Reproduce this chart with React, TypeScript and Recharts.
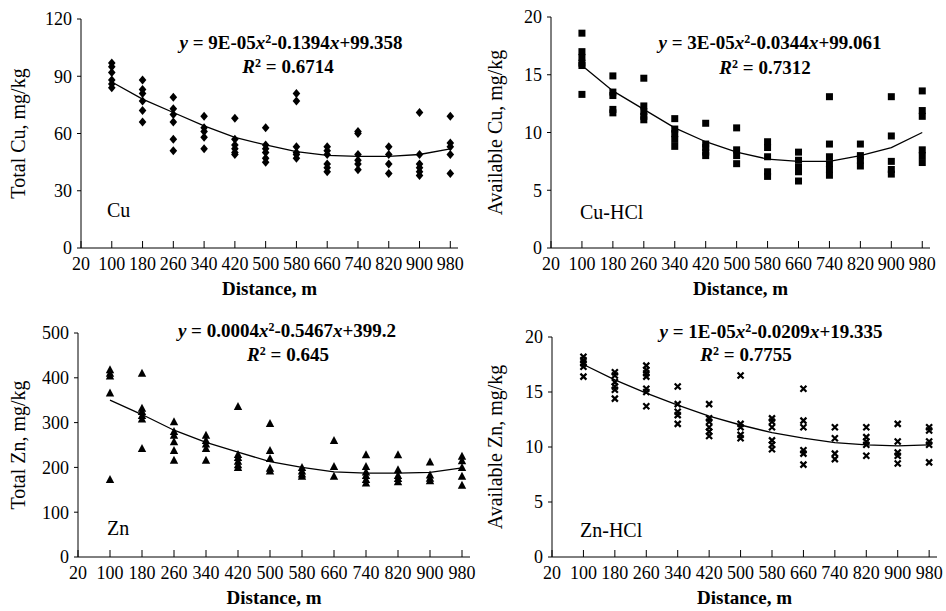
import React from "react";
import { ScatterChart, Scatter, XAxis, YAxis } from "recharts";

const FONT = '"Liberation Serif", "Times New Roman", serif';

const distances = [100, 180, 260, 340, 420, 500, 580, 660, 740, 820, 900, 980];
const xTicks = [20, 100, 180, 260, 340, 420, 500, 580, 660, 740, 820, 900, 980];

// Total Cu, mg/kg (one list per distance)
const totalCu = [
  [97, 95, 92, 88, 86, 84],
  [88, 83, 81, 77, 72, 66],
  [79, 73, 70, 66, 57, 51],
  [69, 63, 61, 58, 52],
  [68, 57, 54, 52, 50, 49],
  [63, 54, 52, 50, 47, 45],
  [81, 77, 53, 50, 49, 47],
  [53, 51, 49, 44, 42, 40],
  [61, 60, 49, 46, 44, 41],
  [53, 49, 44, 39],
  [71, 49, 44, 42, 40, 38],
  [69, 55, 53, 49, 39],
];
const totalCuFit = [87, 78, 71, 64, 58, 54, 50.5, 48.5, 48, 48, 49, 52];

// Available Cu (HCl), mg/kg
const availCu = [
  [18.6, 17, 16.5, 16, 15.8, 13.3],
  [14.9, 13.5, 13.2, 12, 11.7],
  [14.7, 12.3, 11.8, 11.4, 11.1],
  [11.2, 10.3, 9.9, 9.4, 8.8],
  [10.8, 9, 8.7, 8.3, 8],
  [10.4, 8.5, 8, 7.3],
  [9.2, 8.7, 7.9, 6.6, 6.2],
  [8.3, 7.6, 7, 6.6, 5.8],
  [13.1, 9, 7.9, 7.3, 6.8, 6.3],
  [9, 8, 7.6, 7.1],
  [13.1, 9.7, 7.5, 6.8, 6.4],
  [13.6, 11.9, 11.4, 8.5, 8, 7.4],
];
const availCuFit = [15.8, 13.6, 12, 10.4, 9.2, 8.3, 7.7, 7.5, 7.5, 8, 8.7, 10];

// Total Zn, mg/kg
const totalZn = [
  [418, 410, 404, 366, 173],
  [410, 332, 325, 316, 308, 242],
  [302, 280, 272, 257, 238, 216],
  [272, 260, 252, 242, 216],
  [336, 229, 222, 214, 206, 200],
  [298, 238, 220, 198, 192],
  [200, 192, 185, 180],
  [260, 202, 180],
  [228, 202, 190, 182, 173, 165],
  [228, 195, 182, 175, 168],
  [212, 183, 176, 170],
  [225, 215, 200, 180, 160],
];
const totalZnFit = [350, 318, 283, 256, 234, 213, 200, 190, 187, 187, 189, 199];

// Available Zn (HCl), mg/kg
const availZn = [
  [18.2, 17.9, 17.6, 17.3, 16.4],
  [16.8, 16.5, 15.9, 15.5, 15.2, 14.4],
  [17.4, 17, 16.7, 16.4, 15.3, 15, 13.7],
  [15.5, 13.9, 13.2, 12.9, 12.1],
  [13.9, 12.6, 12.3, 11.8, 11.4, 11],
  [16.5, 12.1, 11.8, 11.1, 10.8],
  [12.6, 12.3, 11.8, 10.6, 10.2, 9.8],
  [15.3, 12.4, 11.8, 9.7, 9.4, 8.4],
  [11.8, 10.8, 9.4, 8.9],
  [11.8, 10.9, 10.5, 10.2, 9.2],
  [12.1, 10.5, 9.5, 9.2, 8.5],
  [11.8, 11.5, 10.5, 10.2, 8.6],
];
const availZnFit = [17.5, 16.1, 14.9, 13.8, 12.8, 12, 11.3, 10.8, 10.4, 10.2, 10.1, 10.2];

const toPoints = (groups: number[][]) =>
  groups.flatMap((g, i) => g.map((y) => ({ x: distances[i], y })));
const toFit = (vals: number[]) => vals.map((y, i) => ({ x: distances[i], y }));

const Diamond = (p: any) => (
  <path
    d={`M${p.cx},${p.cy - 4.5}L${p.cx + 3.8},${p.cy}L${p.cx},${p.cy + 4.5}L${p.cx - 3.8},${p.cy}Z`}
    fill="#000"
  />
);
const Square = (p: any) => (
  <rect x={p.cx - 3.5} y={p.cy - 3.5} width={7} height={7} fill="#000" />
);
const Triangle = (p: any) => (
  <path
    d={`M${p.cx},${p.cy - 4.5}L${p.cx + 4.2},${p.cy + 3.5}L${p.cx - 4.2},${p.cy + 3.5}Z`}
    fill="#000"
  />
);
const Cross = (p: any) => (
  <path
    d={`M${p.cx - 3},${p.cy - 3}L${p.cx + 3},${p.cy + 3}M${p.cx + 3},${p.cy - 3}L${p.cx - 3},${p.cy + 3}`}
    stroke="#000"
    strokeWidth={2.2}
  />
);
const NoDot = () => <g />;

const XTick = (p: any) => (
  <g>
    <line x1={p.x} y1={p.y} x2={p.x} y2={p.y - 7} stroke="#000" />
    <text x={p.x} y={p.y + 22} textAnchor="middle" fontSize={18} fontFamily={FONT} fill="#000">
      {p.payload.value}
    </text>
  </g>
);

type PanelProps = {
  box: number[]; // left, top, width, height of the chart
  plot: number[]; // plot area: left, top, right, bottom (page px)
  yMax: number;
  yTicks: number[];
  yTitle: string;
  yTitleX: number;
  points: { x: number; y: number }[];
  fit: { x: number; y: number }[];
  shape: any;
  name: string;
  namePos: number[];
  eq: string[]; // [a, b, c] parts of y = a x2 b x c
  r2: string;
  eqPos: number[];
  r2Pos: number[];
};

const Panel: React.FC<PanelProps> = (props) => {
  const [cx, cy, w, h] = props.box;
  const [pl, pt, pr, pb] = props.plot;
  const eqX = props.eqPos[0] - cx;
  const eqY = props.eqPos[1] - cy;
  return (
    <div style={{ position: "absolute", left: cx, top: cy, width: w, height: h }}>
      <ScatterChart
        width={w}
        height={h}
        margin={{ top: pt - cy, right: cx + w - pr, bottom: 0, left: 0 }}
      >
        <XAxis
          type="number"
          dataKey="x"
          domain={[20, 1000]}
          ticks={xTicks}
          interval={0}
          tick={<XTick />}
          tickLine={false}
          tickSize={0}
          tickMargin={0}
          height={cy + h - pb}
          axisLine={{ stroke: "#000" }}
          label={{
            content: (lp: any) => (
              <text
                x={lp.viewBox.x + lp.viewBox.width / 2}
                y={pb - cy + 47}
                textAnchor="middle"
                fontSize={19}
                fontWeight="bold"
                fontFamily={FONT}
                fill="#000"
              >
                Distance, m
              </text>
            ),
          }}
        />
        <YAxis
          type="number"
          dataKey="y"
          domain={[0, props.yMax]}
          ticks={props.yTicks}
          interval={0}
          width={pl - cx}
          tickSize={4}
          tickMargin={5}
          tick={{ fill: "#000", fontSize: 18, fontFamily: FONT }}
          tickLine={{ stroke: "#000" }}
          axisLine={{ stroke: "#000" }}
          label={{
            content: (lp: any) => {
              const x = props.yTitleX - cx;
              const y = lp.viewBox.y + lp.viewBox.height / 2;
              return (
                <text
                  x={x}
                  y={y}
                  transform={`rotate(-90 ${x} ${y})`}
                  textAnchor="middle"
                  dominantBaseline="central"
                  fontSize={20}
                  fontFamily={FONT}
                  fill="#000"
                >
                  {props.yTitle}
                </text>
              );
            },
          }}
        />
        <Scatter data={props.points} shape={props.shape} isAnimationActive={false} />
        <Scatter
          data={props.fit}
          shape={NoDot}
          line={{ stroke: "#000", strokeWidth: 1.3 }}
          isAnimationActive={false}
        />
      </ScatterChart>
      <svg
        width={w}
        height={h}
        style={{ position: "absolute", left: 0, top: 0, pointerEvents: "none" }}
        fontFamily={FONT}
        fill="#000"
      >
        <text x={eqX} y={eqY + 6} textAnchor="middle" fontSize={19} fontWeight="bold">
          <tspan fontStyle="italic">y</tspan>
          <tspan> = {props.eq[0]}</tspan>
          <tspan fontStyle="italic">x</tspan>
          <tspan dy={-6} fontSize={12}>2</tspan>
          <tspan dy={6}>{props.eq[1]}</tspan>
          <tspan fontStyle="italic">x</tspan>
          <tspan>{props.eq[2]}</tspan>
        </text>
        <text
          x={props.r2Pos[0] - cx}
          y={props.r2Pos[1] - cy + 8}
          textAnchor="middle"
          fontSize={19}
          fontWeight="bold"
        >
          <tspan fontStyle="italic">R</tspan>
          <tspan dy={-6} fontSize={12}>2</tspan>
          <tspan dy={6}> = {props.r2}</tspan>
        </text>
        <text x={props.namePos[0] - cx} y={props.namePos[1] - cy + 7} fontSize={20}>
          {props.name}
        </text>
      </svg>
    </div>
  );
};

export default function App() {
  return (
    <div
      style={{
        position: "absolute",
        left: 0,
        top: 0,
        width: 946,
        height: 611,
        background: "#fff",
      }}
    >
      <Panel
        box={[0, 0, 473, 305]}
        plot={[81, 19, 458, 248]}
        yMax={120}
        yTicks={[0, 30, 60, 90, 120]}
        yTitle="Total Cu, mg/kg"
        yTitleX={18}
        points={toPoints(totalCu)}
        fit={toFit(totalCuFit)}
        shape={Diamond}
        name="Cu"
        namePos={[107, 210]}
        eq={["9E-05", "-0.1394", "+99.358"]}
        r2="0.6714"
        eqPos={[291, 43]}
        r2Pos={[288, 65]}
      />
      <Panel
        box={[473, 0, 473, 305]}
        plot={[551, 17, 930, 248]}
        yMax={20}
        yTicks={[0, 5, 10, 15, 20]}
        yTitle="Available Cu, mg/kg"
        yTitleX={495}
        points={toPoints(availCu)}
        fit={toFit(availCuFit)}
        shape={Square}
        name="Cu-HCl"
        namePos={[580, 212]}
        eq={["3E-05", "-0.0344", "+99.061"]}
        r2="0.7312"
        eqPos={[770, 43]}
        r2Pos={[765, 66]}
      />
      <Panel
        box={[0, 305, 482, 306]}
        plot={[78, 333, 470, 557]}
        yMax={500}
        yTicks={[0, 100, 200, 300, 400, 500]}
        yTitle="Total Zn, mg/kg"
        yTitleX={18}
        points={toPoints(totalZn)}
        fit={toFit(totalZnFit)}
        shape={Triangle}
        name="Zn"
        namePos={[107, 528]}
        eq={["0.0004", "-0.5467", "+399.2"]}
        r2="0.645"
        eqPos={[287, 331]}
        r2Pos={[288, 353]}
      />
      <Panel
        box={[482, 305, 464, 306]}
        plot={[552, 337, 937, 557]}
        yMax={20}
        yTicks={[0, 5, 10, 15, 20]}
        yTitle="Available Zn, mg/kg"
        yTitleX={495}
        points={toPoints(availZn)}
        fit={toFit(availZnFit)}
        shape={Cross}
        name="Zn-HCl"
        namePos={[580, 530]}
        eq={["1E-05", "-0.0209", "+19.335"]}
        r2="0.7755"
        eqPos={[771, 332]}
        r2Pos={[746, 353]}
      />
    </div>
  );
}
